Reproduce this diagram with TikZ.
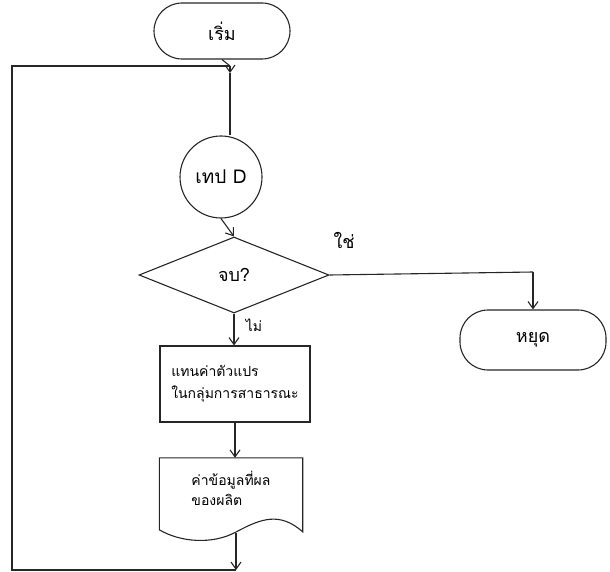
\documentclass[tikz,border=0pt]{standalone}
\usepackage{fontspec}
\newfontfamily\thaifont[Script=Thai]{Loma}
\usetikzlibrary{shapes.geometric,arrows.meta,calc}
\tikzset{
  line/.style={draw=black!85, line width=1.1pt},
  arr/.style={line, -{Straight Barb[length=7pt,width=10pt]}},
  term/.style={line, rectangle, rounded corners=28pt, font=\thaifont\fontsize{18}{20}\selectfont},
  proc/.style={line, rectangle, align=left, inner sep=3pt, font=\thaifont\fontsize{14}{22}\selectfont},
  dec/.style={line, diamond, inner sep=0pt, font=\thaifont\fontsize{18}{20}\selectfont},
  lbl/.style={font=\thaifont\fontsize{18}{20}\selectfont}
}
\begin{document}
\begin{tikzpicture}[x=1pt,y=-1pt]
\useasboundingbox (0,0) rectangle (610,572);
% nodes
\node[term, minimum width=136pt, minimum height=56pt] (start) at (222,31) {เริ่ม};
\node[line, circle, minimum size=82pt, inner sep=0pt, font=\thaifont\fontsize{19}{20}\selectfont] (tape) at (221,177) {เทป D};
\node[dec, minimum width=190pt, minimum height=76pt] (end) at (234,275) {จบ?};
\node[term, minimum width=146pt, minimum height=60pt] (stop) at (533,340) {หยุด};
\node[proc, minimum width=150pt, minimum height=76pt] (calc) at (235,384) {แทนค่าตัวแปร\\ในกลุ่มการสาธารณะ};
\node[align=left, minimum width=143pt, minimum height=60pt, font=\thaifont\fontsize{14}{20}\selectfont] (doc) at (231,488) {ค่าข้อมูลที่ผล\\ของผลิต};
% document shape
\draw[line] (doc.north west) -- (doc.north east) -- ++(0,74)
  .. controls (280,512) and (262,518) .. (236,532)
  .. controls (212,545) and (180,542) .. ($(doc.north west)+(0,72)$) -- cycle;
\coordinate (docb) at (236,533);
\coordinate (join) at (230,66);
\coordinate (bl) at (12,570);
\coordinate (br) at (236,570);
\coordinate (tl) at (12,66);
\coordinate (yturn) at (533,272);
% connectors
\draw[line] (start.south) -- (join);
\draw[arr] (join) -- (230,73);
\draw[line] (230,73) -- (tape.north -| 230,0);
\draw[arr] (tape.south) -- (end.north);
\draw[line] (end.east) -- (yturn);
\draw[arr] (yturn) -- (stop.north);
\draw[arr] (end.south) -- (end.south |- calc.north);
\draw[arr] (calc.south) -- (calc.south |- doc.north);
\draw[arr] (docb) -- (br);
\draw[line] (br) -- (bl) -- (tl) -- (join);
% labels
\node[lbl] (yes) at (344,240) {ใช่};
\node[lbl, font=\thaifont\fontsize{14}{15}\selectfont] (no) at (254,325) {ไม่};
\end{tikzpicture}
\end{document}
